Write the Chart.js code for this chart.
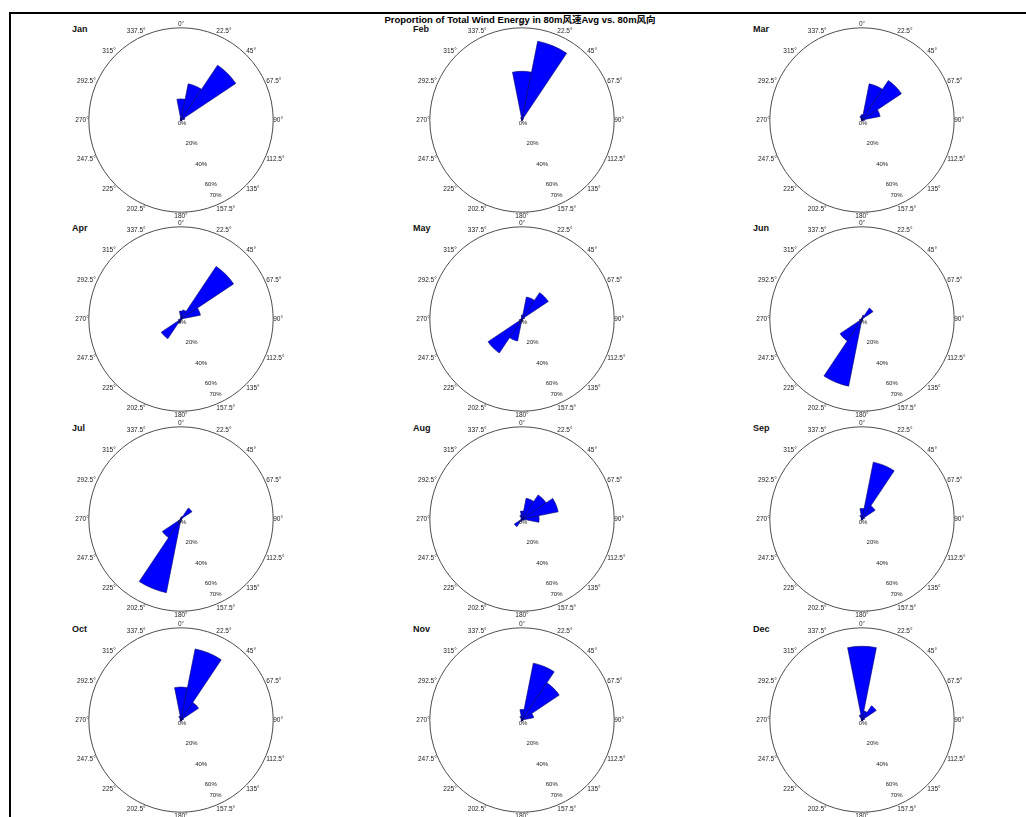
<!DOCTYPE html>
<html>
<head>
<meta charset="utf-8">
<script src="https://cdn.jsdelivr.net/npm/chart.js@4.4.0/dist/chart.umd.min.js"></script>
<style>
  body { margin:0; background:#fff; width:1026px; height:817px; overflow:hidden; position:relative;
         font-family: Arial, "Liberation Sans", "Noto Sans CJK SC", sans-serif; }
  #frame { position:absolute; left:9px; top:12px; width:1040px; height:830px;
           border-left:2px solid #000; border-top:2px solid #000; }
  #title { position:absolute; top:15px; left:320px; width:400px; text-align:center;
           font-weight:bold; font-size:9.5px; line-height:10px; color:#000; }
  .mon { position:absolute; font-weight:bold; font-size:9px; line-height:10px; color:#111; }
  canvas { position:absolute; }
</style>
</head>
<body>
<div id="frame"></div>
<div id="title">Proportion of Total Wind Energy in 80m风速Avg vs. 80m风向</div>
<script>
// 16 direction bins, clockwise from north
const dirLabels = ['0°','22.5°','45°','67.5°','90°','112.5°','135°','157.5°',
                   '180°','202.5°','225°','247.5°','270°','292.5°','315°','337.5°'];
const months = ['Jan','Feb','Mar','Apr','May','Jun','Jul','Aug','Sep','Oct','Nov','Dec'];
const rTickValues = [0, 20, 40, 60, 70];
const rTickLabels = ['0%', '20%', '40%', '60%', '70%'];

// % of wind energy per direction bin
const jan = [16, 28, 50, 3, 0.8, 0.4, 0.3, 0.3, 0.3, 0.4, 0.5, 0.4, 0.3, 0.3, 0.5, 1.5];
const feb = [37, 61, 1.5, 0.5, 0.3, 0.2, 0.2, 0.2, 0.2, 0.3, 0.3, 0.3, 0.3, 0.3, 0.5, 2];
const mar = [4, 28, 36, 14, 2, 0.5, 0.3, 0.3, 0.3, 0.5, 0.5, 0.5, 0.3, 0.5, 1, 3];
const apr = [6, 7, 48, 15, 1, 0.5, 0.5, 0.5, 1, 3, 18, 2, 0.5, 0.5, 0.5, 1];
const may = [3, 17, 24, 2, 0.5, 0.5, 0.5, 1, 2, 17, 31, 2, 0.5, 0.5, 0.5, 1];
const jun = [1, 3, 10, 1, 0.5, 0.3, 0.3, 0.5, 2, 52, 20, 2, 0.5, 0.3, 0.3, 0.5];
const jul = [1, 2, 10, 1, 0.5, 0.3, 0.3, 0.5, 2, 57, 17, 1, 0.5, 0.3, 0.3, 0.5];
const aug = [6, 16, 22, 28, 13, 2, 0.5, 0.5, 1, 2, 7, 1, 0.5, 0.5, 1, 3];
const sep = [8, 44, 12, 2, 0.5, 0.3, 0.3, 0.3, 0.5, 1, 1, 0.5, 0.3, 0.3, 1, 3];
const oct = [25, 55, 16, 2, 0.5, 0.3, 0.3, 0.3, 0.5, 1, 1, 0.5, 0.3, 0.5, 1, 3];
const nov = [8, 44, 34, 9, 1, 0.3, 0.3, 0.3, 0.5, 1, 1, 0.5, 0.3, 0.5, 1, 3];
const dec = [56, 7, 13, 2, 0.5, 0.3, 0.3, 0.3, 0.5, 0.5, 0.5, 0.5, 0.3, 0.5, 1, 4];
const monthData = [jan, feb, mar, apr, may, jun, jul, aug, sep, oct, nov, dec];

// layout of the 3x4 grid (circle centres)
const colX = [181, 522, 862];
const rowY = [121, 320, 520, 721];

// radial % labels along the SSE line
const rLabelPlugin = {
  id: 'rLabels',
  afterDraw(chart) {
    const s = chart.scales.r;
    const c = chart.ctx;
    const a = 155 * Math.PI / 180;
    c.save();
    c.font = '6px Arial';
    c.fillStyle = '#222';
    c.textAlign = 'center';
    c.textBaseline = 'middle';
    rTickValues.forEach((v, i) => {
      const d = s.getDistanceFromCenterForValue(v) * 0.86;
      c.fillText(rTickLabels[i], s.xCenter + Math.sin(a) * d + 1, s.yCenter - Math.cos(a) * d + 3);
    });
    c.restore();
  }
};

months.forEach((m, k) => {
  const cx = colX[k % 3], cy = rowY[Math.floor(k / 3)];

  const lab = document.createElement('div');
  lab.className = 'mon';
  lab.textContent = m;
  lab.style.left = (cx - 109) + 'px';
  lab.style.top = (cy - 97) + 'px';
  document.body.appendChild(lab);

  const cv = document.createElement('canvas');
  cv.width = 340; cv.height = 200;
  cv.style.left = (cx - 170) + 'px';
  cv.style.top = (cy - 100) + 'px';
  document.body.appendChild(cv);

  new Chart(cv, {
    type: 'polarArea',
    data: {
      labels: dirLabels,
      datasets: [{
        data: monthData[k],
        backgroundColor: '#0000ff',
        borderColor: '#000066',
        borderWidth: 0.6
      }]
    },
    options: {
      responsive: false,
      animation: false,
      layout: { padding: 0 },
      plugins: { legend: { display: false }, tooltip: { enabled: false } },
      scales: {
        r: {
          min: 0,
          max: 70,
          startAngle: -11.25,
          afterBuildTicks: s => { s.ticks = rTickValues.map(v => ({ value: v })); },
          ticks: { display: false },
          grid: {
            circular: true,
            lineWidth: 1,
            color: c => (c.tick && c.tick.value === 70) ? '#4d4d4d' : 'rgba(0,0,0,0)'
          },
          angleLines: { display: false },
          pointLabels: {
            display: true,
            centerPointLabels: true,
            padding: 0,
            color: '#222',
            font: { size: 6.5, family: 'Arial' }
          }
        }
      }
    },
    plugins: [rLabelPlugin]
  });
});
</script>
</body>
</html>
